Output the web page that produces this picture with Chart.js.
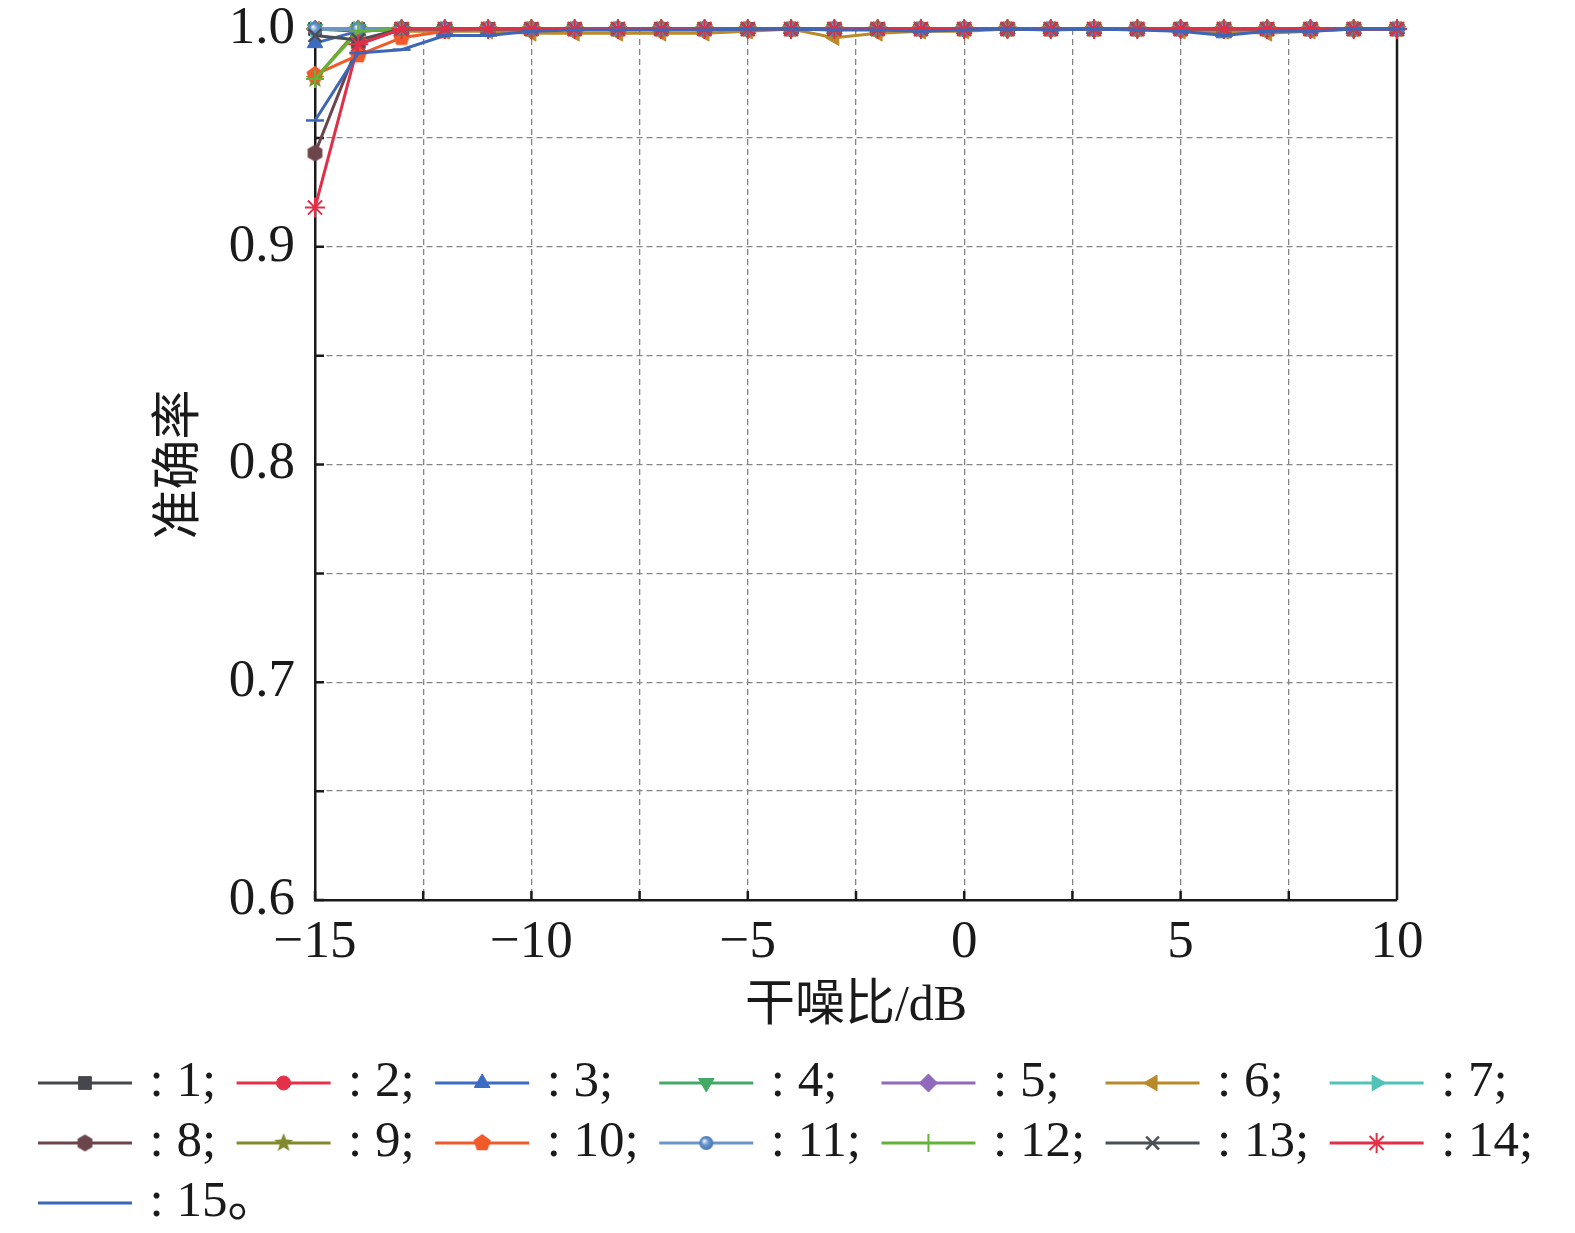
<!DOCTYPE html>
<html><head><meta charset="utf-8">
<script src="https://cdn.jsdelivr.net/npm/chart.js@4.4.1/dist/chart.umd.min.js"></script>
<style>html,body{margin:0;padding:0;background:#fff}#wrap{width:1575px;height:1233px;position:relative}</style>
</head><body><div id="wrap"><canvas id="c"></canvas></div>
<script>
// ---------- data ----------
const snr = [-15,-14,-13,-12,-11,-10,-9,-8,-7,-6,-5,-4,-3,-2,-1,0,1,2,3,4,5,6,7,8,9,10];
const seriesNames = ['1','2','3','4','5','6','7','8','9','10','11','12','13','14','15'];
const acc1  = [1,1,1,1,1,1,1,1,1,1,1,1,1,1,1,1,1,1,1,1,1,1,1,1,1,1];
const acc2  = [1,0.999,1,1,1,1,1,1,1,1,1,1,1,1,1,1,1,1,1,1,1,1,1,1,1,1];
const acc3  = [0.9935,0.999,1,1,1,1,1,1,1,1,1,1,1,1,1,1,1,1,1,1,1,0.998,1,1,1,1];
const acc4  = [1,1,1,1,1,1,1,1,1,1,1,1,1,1,1,1,1,1,1,1,1,1,1,1,1,1];
const acc5  = [1,1,1,1,1,1,1,1,1,1,1,1,1,1,1,1,1,1,1,1,1,1,1,1,1,1];
const acc6  = [1,1,0.999,0.999,0.999,0.998,0.998,0.998,0.998,0.998,0.999,1,0.996,0.998,0.999,0.999,1,1,1,1,0.999,0.999,0.998,0.999,1,1];
const acc7  = [1,1,1,1,1,1,1,1,1,1,1,1,1,1,1,1,1,1,1,1,1,1,1,1,1,1];
const acc8  = [0.943,0.993,1,1,1,1,1,1,1,1,1,1,1,1,1,1,1,1,1,1,1,1,1,1,1,1];
const acc9  = [0.977,1,1,1,1,1,1,1,1,1,1,1,1,1,1,1,1,1,1,1,1,1,1,1,1,1];
const acc10 = [0.979,0.988,0.996,0.999,1,1,1,1,1,1,1,1,1,1,1,1,1,1,1,1,1,1,1,1,1,1];
const acc11 = [1,1,1,1,1,1,1,1,1,1,1,1,1,1,1,1,1,1,1,1,1,1,1,1,1,1];
const acc12 = [0.977,0.999,1,1,1,1,1,1,1,1,1,1,1,1,1,1,1,1,1,1,1,1,1,1,1,1];
const acc13 = [0.997,0.995,1,1,1,1,1,1,1,1,1,1,1,1,1,1,1,1,1,1,1,1,1,1,1,1];
const acc14 = [0.918,0.993,1,1,1,1,1,1,1,1,1,1,1,1,1,1,1,1,1,1,1,1,1,1,1,1];
const acc15 = [0.958,0.989,0.9905,0.997,0.997,0.999,0.9995,0.9995,0.9995,0.9995,1,1,0.9995,0.9995,0.999,0.9995,1,0.9995,1,0.9995,0.999,0.997,0.999,0.999,1,1];
const xTitle = '干噪比/dB';
const yTitle = '准确率';

// ---------- styles ----------
const SERIF = "'Liberation Serif','Times New Roman','Noto Sans CJK SC',serif";
const FS = 53, TFS = 50, LFS = 51;
function polyCanvas(n, r, color, rotDeg, star){
  const s = Math.ceil(2*r+4), c = document.createElement('canvas');
  c.width = s; c.height = s;
  const g = c.getContext('2d'); g.fillStyle = color; g.beginPath();
  const pts = star ? n*2 : n;
  for(let k=0;k<pts;k++){
    const a = (rotDeg + k*360/pts)*Math.PI/180;
    const rr = star && (k%2) ? r*0.42 : r;
    const px = s/2 + rr*Math.sin(a), py = s/2 - rr*Math.cos(a);
    k ? g.lineTo(px,py) : g.moveTo(px,py);
  }
  g.closePath(); g.fill(); return c;
}
function ballCanvas(r, color){
  const s = Math.ceil(2*r+4), c = document.createElement('canvas');
  c.width = s; c.height = s; const g = c.getContext('2d');
  const grd = g.createRadialGradient(s/2-r*0.3, s/2-r*0.3, 0.5, s/2, s/2, r);
  grd.addColorStop(0,'#e8f0fa'); grd.addColorStop(0.45,color); grd.addColorStop(1,'#4a78b4');
  g.fillStyle = grd; g.beginPath(); g.arc(s/2,s/2,r,0,Math.PI*2); g.fill(); return c;
}
const colors = ['#45474c','#e5304a','#3c6bc2','#42aa66','#9168bb','#b98a2a','#4fc3b8','#6b454b','#7e8a2c','#ef5a28','#6a95cb','#64b236','#4b4e54','#e02f47','#3d66b6'];
const series = [acc1,acc2,acc3,acc4,acc5,acc6,acc7,acc8,acc9,acc10,acc11,acc12,acc13,acc14,acc15];
const pstyle = [
  {s:'rect', r:9, rot:0},
  {s:'circle', r:7, rot:0},
  {s:'triangle', r:9, rot:0},
  {s:'triangle', r:9, rot:180},
  {s:'rectRot', r:9, rot:0},
  {s:'triangle', r:9, rot:-90},
  {s:'triangle', r:9, rot:90},
  {s:polyCanvas(6,8.5,colors[7],0,false), r:9, rot:0},
  {s:polyCanvas(5,10,colors[8],0,true), r:9, rot:0},
  {s:polyCanvas(5,9,colors[9],0,false), r:9, rot:0},
  {s:ballCanvas(7,colors[10]), r:8, rot:0},
  {s:'cross', r:9, rot:0, bw:2},
  {s:'crossRot', r:9, rot:0, bw:2.5},
  {s:'star', r:10, rot:0, bw:2},
  {s:'line', r:9, rot:0, bw:2.5}
];

const datasets = series.map((arr,i)=>({
  label: seriesNames[i],
  data: snr.map((x,k)=>({x:x, y:arr[k]})),
  borderColor: colors[i], backgroundColor: colors[i],
  borderWidth: 3, tension: 0, clip: false,
  pointStyle: pstyle[i].s, pointRadius: pstyle[i].r, pointRotation: pstyle[i].rot,
  pointBorderWidth: pstyle[i].bw || 1, pointBorderColor: colors[i], pointBackgroundColor: colors[i],
  order: 14 - i
}));

function fmtX(v){ if (Math.abs(v%5) > 1e-9) return ''; return v < 0 ? '\u2212' + Math.abs(v) : String(v); }
function fmtY(v){ const k = Math.round(v*20); return k%2===0 ? (k/20).toFixed(1) : ''; }

const deco = {
  id: 'deco',
  beforeDatasetsDraw(chart){
    const {ctx, chartArea:a, scales:{x,y}} = chart;
    ctx.save();
    ctx.strokeStyle = '#1a1a1a'; ctx.lineWidth = 2.5; ctx.setLineDash([]);
    ctx.beginPath();
    x.ticks.forEach(t=>{ const px = x.getPixelForValue(t.value); ctx.moveTo(px, a.bottom); ctx.lineTo(px, a.bottom-9); });
    y.ticks.forEach(t=>{ const py = y.getPixelForValue(t.value); ctx.moveTo(a.left, py); ctx.lineTo(a.left+9, py); });
    ctx.moveTo(a.left, a.top); ctx.lineTo(a.right, a.top);
    ctx.moveTo(a.right, a.top); ctx.lineTo(a.right, a.bottom);
    ctx.stroke();
    ctx.restore();
  },
  afterDraw(chart){
    const {ctx, chartArea:a} = chart;
    ctx.save();
    ctx.fillStyle = '#1a1a1a';
    ctx.font = TFS + "px " + SERIF;
    ctx.textAlign = 'center'; ctx.textBaseline = 'middle';
    ctx.fillText(xTitle, (a.left+a.right)/2, 1007);
    ctx.save(); ctx.translate(181, (a.top+a.bottom)/2); ctx.rotate(-Math.PI/2);
    ctx.fillText(yTitle, 0, 0); ctx.restore();

    // legend
    ctx.font = LFS + "px " + SERIF;
    const rowsY = [1083, 1143, 1203];
    const perRow = 7, lineLen = 94, gapLT = 17.5, gapItem = 20.5;
    const labels = seriesNames.map((n,i)=> ': ' + n + (i === seriesNames.length-1 ? '\u3002' : ';'));
    const colW = [];
    for (let c=0;c<perRow;c++){
      let m = 0;
      for (let i=c;i<labels.length-1;i+=perRow) m = Math.max(m, ctx.measureText(labels[i]).width);
      colW.push(m);
    }
    const colX = [38];
    for (let c=1;c<perRow;c++) colX.push(colX[c-1] + lineLen + gapLT + colW[c-1] + gapItem);
    labels.forEach((lab,i)=>{
      const r = Math.floor(i/perRow), c = i%perRow;
      const x0 = colX[c], yy = rowsY[r];
      ctx.strokeStyle = colors[i]; ctx.lineWidth = 3; ctx.setLineDash([]);
      ctx.beginPath(); ctx.moveTo(x0, yy); ctx.lineTo(x0+lineLen, yy); ctx.stroke();
      if (i < 14 && Chart.helpers && Chart.helpers.drawPoint){
        ctx.fillStyle = colors[i]; ctx.strokeStyle = colors[i];
        ctx.lineWidth = pstyle[i].bw || 1;
        Chart.helpers.drawPoint(ctx, {pointStyle: pstyle[i].s, rotation: pstyle[i].rot, radius: pstyle[i].r, borderWidth: pstyle[i].bw || 1}, x0+lineLen/2, yy);
      }
      ctx.fillStyle = '#1a1a1a'; ctx.textAlign = 'left'; ctx.textBaseline = 'middle';
      ctx.fillText(lab, x0+lineLen+gapLT, yy);
    });
    ctx.restore();
  }
};

new Chart(document.getElementById('c'), {
  type: 'line',
  data: { datasets },
  options: {
    responsive: true, maintainAspectRatio: false, animation: false,
    layout: { padding: { top: 29, right: 178, bottom: 0, left: 0 } },
    plugins: { legend: { display: false }, tooltip: { enabled: false } },
    scales: {
      x: {
        type: 'linear', min: -15, max: 10,
        afterFit: s => { s.height = 333; s.paddingLeft = 0; s.paddingRight = 0; },
        ticks: { stepSize: 2.5, autoSkip: false, maxRotation: 0, padding: 11, color: '#1a1a1a',
                 font: { family: SERIF, size: FS }, callback: fmtX },
        grid: { color: '#858585', lineWidth: 1.3, drawTicks: false },
        border: { display: true, color: '#1a1a1a', width: 2.5, dash: [6,4] }
      },
      y: {
        min: 0.6, max: 1.0,
        afterFit: s => { s.width = 315; s.paddingTop = 0; s.paddingBottom = 0; },
        ticks: { stepSize: 0.05, autoSkip: false, padding: 20, color: '#1a1a1a',
                 font: { family: SERIF, size: FS }, callback: fmtY },
        grid: { color: '#858585', lineWidth: 1.3, drawTicks: false },
        border: { display: true, color: '#1a1a1a', width: 2.5, dash: [6,4] }
      }
    }
  },
  plugins: [deco]
});
</script>
</body></html>
